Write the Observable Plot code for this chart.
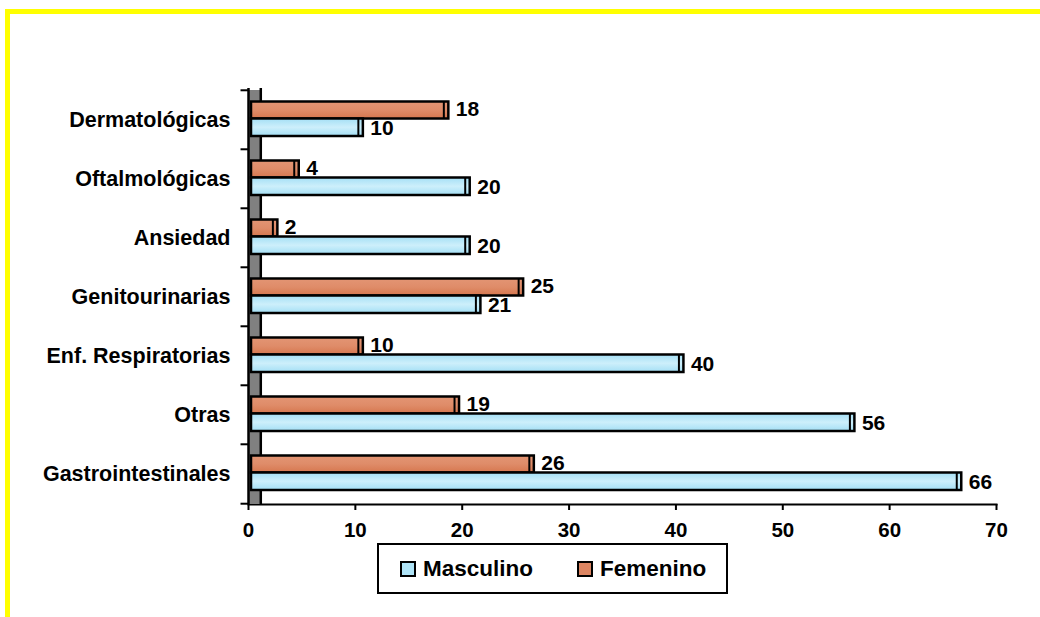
<!DOCTYPE html>
<html><head><meta charset="utf-8">
<script src="https://cdn.jsdelivr.net/npm/d3@7"></script>
<script src="https://cdn.jsdelivr.net/npm/@observablehq/plot@0.6"></script>
<style>
body{margin:0;background:#fff;font-family:"Liberation Sans",Arial,sans-serif;}
#wrap{position:relative;width:1040px;height:617px;overflow:hidden;}
#frame{position:absolute;left:5px;top:9px;width:1100px;height:700px;border-top:5px solid #ffff00;border-left:5px solid #ffff00;}
#chart{position:absolute;left:0;top:0;}
#legend{position:absolute;left:377px;top:543px;width:347px;height:47px;border:2px solid #000;background:#fff;font-weight:bold;font-size:22.5px;color:#000;}
.item{position:absolute;top:0;height:47px;display:flex;align-items:center;}
.sw{width:12px;height:12px;border:2px solid #000;margin-right:7px;}
</style>
</head><body>
<div id="wrap">
  <div id="frame"></div>
  <div id="chart"></div>
  <div id="legend"></div>
</div>
<script>
const categories = ["Dermatológicas","Oftalmológicas","Ansiedad","Genitourinarias","Enf. Respiratorias","Otras","Gastrointestinales"];
const masculino = [10,20,20,21,40,56,66];
const femenino  = [18,4,2,25,10,19,26];
const xTicks = [0,10,20,30,40,50,60,70];
const seriesNames = ["Masculino","Femenino"];
const seriesColors = ["#aee3f6","#dc8562"];

const rows = categories.map((c,i)=>({cat:c, m:masculino[i], f:femenino[i]}));
const H = 540, MT = 88, MB = 36;
const bw = (H - MT - MB) / categories.length;

const plot = Plot.plot({
  width: 1040, height: H,
  marginTop: MT, marginBottom: MB, marginLeft: 248, marginRight: 44,
  x: {domain:[0,70], ticks: xTicks, label:null},
  y: {domain: categories, padding:0, label:null},
  style: {fontFamily:"'Liberation Sans', Arial, sans-serif", fontWeight:"bold", background:"transparent", overflow:"visible", color:"#000"},
  marks: [
    // grey wall
    Plot.barX(rows, {y:"cat", x1:0, x2:1.15, fill:"#808080", inset:0}),
    Plot.ruleX([0, 1.15], {stroke:"#000", strokeWidth:2.5}),
    // femenino bars
    Plot.barX(rows, {y:"cat", x1:0, x2:"f", fill:"url(#gf)", stroke:"#000", strokeWidth:2.5,
      insetTop:11.5, insetBottom:30.5, insetLeft:3, insetRight:-8}),
    Plot.tickX(rows, {y:"cat", x:"f", dx:3, stroke:"#000", strokeWidth:2, insetTop:11.5, insetBottom:30.5}),
    // masculino bars
    Plot.barX(rows, {y:"cat", x1:0, x2:"m", fill:"url(#gm)", stroke:"#000", strokeWidth:2.5,
      insetTop:28.5, insetBottom:13, insetLeft:3, insetRight:-8}),
    Plot.tickX(rows, {y:"cat", x:"m", dx:3, stroke:"#000", strokeWidth:2, insetTop:28.5, insetBottom:13}),
    // value labels
    Plot.text(rows, {y:"cat", x:"f", text:d=>String(d.f), textAnchor:"start", dx:15, dy:-11, fontSize:21, fontWeight:"bold", fill:"#000"}),
    Plot.text(rows, {y:"cat", x:"m", text:d=>String(d.m), textAnchor:"start", dx:15, dy:8, fontSize:21, fontWeight:"bold", fill:"#000"}),
    // axes
    Plot.frame({anchor:"bottom", stroke:"#000", strokeWidth:2}),
    Plot.ruleY(categories, {y:d=>d, x1:-0.7, x2:0, dy:-bw/2, stroke:"#000", strokeWidth:2}),
    Plot.ruleY([categories[categories.length-1]], {y:d=>d, x1:-0.7, x2:0, dy:bw/2, stroke:"#000", strokeWidth:2}),
    Plot.axisX({ticks:xTicks, tickSize:6, tickPadding:12, fontSize:20.5, fontWeight:"bold", stroke:"#000", strokeWidth:2, label:null}),
    Plot.axisY({tickSize:0, tickPadding:18, fontSize:21.5, fontWeight:"bold", label:null})
  ]
});

d3.select(plot).insert("defs", ":first-child").html(`
  <linearGradient id="gm" x1="0" y1="0" x2="0" y2="1">
    <stop offset="0" stop-color="#a4dff5"/>
    <stop offset="0.5" stop-color="#cdeffb"/>
    <stop offset="1" stop-color="#a4dff5"/>
  </linearGradient>
  <linearGradient id="gf" x1="0" y1="0" x2="0" y2="1">
    <stop offset="0" stop-color="#e39574"/>
    <stop offset="0.5" stop-color="#df8c69"/>
    <stop offset="1" stop-color="#d6774f"/>
  </linearGradient>`);

document.getElementById("chart").appendChild(plot);

const legend = document.getElementById("legend");
const lefts = [21, 198];
seriesNames.forEach((s,i)=>{
  const it = document.createElement("div");
  it.className = "item";
  it.style.left = lefts[i] + "px";
  const sw = document.createElement("div");
  sw.className = "sw";
  sw.style.background = seriesColors[i];
  it.appendChild(sw);
  it.appendChild(document.createTextNode(s));
  legend.appendChild(it);
});
</script>
</body></html>
